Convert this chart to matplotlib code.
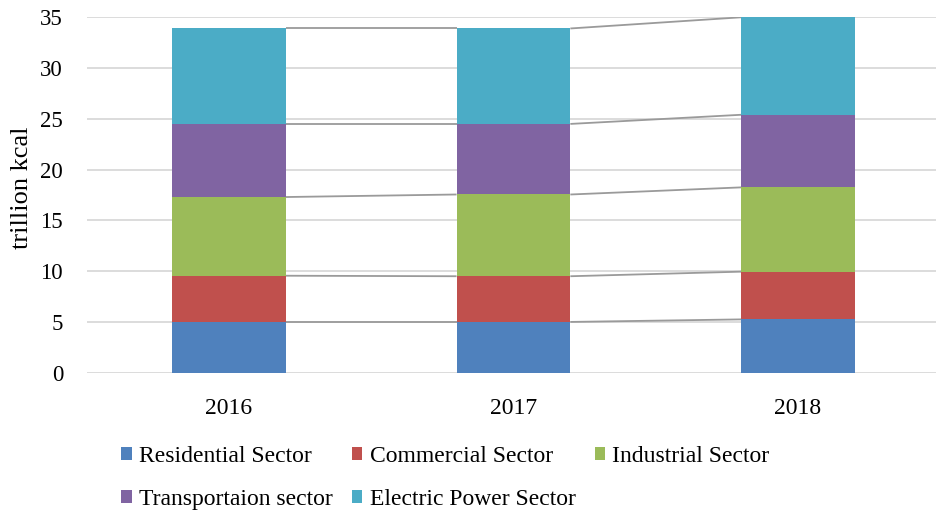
import matplotlib
matplotlib.use("Agg")
import matplotlib.pyplot as plt
from matplotlib.patches import Patch
import numpy as np

years = ["2016", "2017", "2018"]
sectors = ["Residential Sector", "Commercial Sector", "Industrial Sector",
           "Transportaion sector", "Electric Power Sector"]
residential = [5.0, 5.0, 5.25]
commercial = [4.55, 4.5, 4.7]
industrial = [7.75, 8.05, 8.3]
transportation = [7.2, 6.95, 7.15]
electric = [9.4, 9.4, 9.6]
colors = ["#4F81BD", "#C0504D", "#9BBB59", "#8064A2", "#4BACC6"]
yticks = [0, 5, 10, 15, 20, 25, 30, 35]

plt.rcParams['font.family'] = ['Liberation Serif', 'DejaVu Serif']

W, H = 936, 514
fig = plt.figure(figsize=(W / 100, H / 100), dpi=100)
ax = fig.add_axes([86.7 / W, 1 - 372.7 / H, 853.5 / W, 355.4 / H])

series = [residential, commercial, industrial, transportation, electric]
x = np.arange(len(years))
width = 0.40
bottom = np.zeros(len(years))
tops = []
for vals, col, name in zip(series, colors, sectors):
    vals = np.array(vals)
    ax.bar(x, vals, width, bottom=bottom, color=col, label=name, zorder=3,
           edgecolor='none')
    bottom = bottom + vals
    tops.append(bottom.copy())

# series lines connecting segment tops
for t in tops:
    for i in range(len(years) - 1):
        ax.plot([x[i] + width / 2, x[i + 1] - width / 2], [t[i], t[i + 1]],
                color="#9a9a9a", lw=1.3, zorder=2, solid_capstyle='butt')

ax.set_xlim(-0.5, 2.5)
ax.set_ylim(0, 35)
ax.set_yticks(yticks)
ax.set_xticks(x)
ax.set_xticklabels(years)
ax.yaxis.grid(True, color="#d9d9d9", lw=1.3, zorder=0)
ax.set_axisbelow(True)
for s in ax.spines.values():
    s.set_visible(False)
ax.tick_params(axis='y', length=0, pad=17, labelsize=16.5, colors='black')
ax.tick_params(axis='x', length=0, pad=18, labelsize=17, colors='black')
ax.set_ylabel("trillion kcal", fontsize=19)
ax.yaxis.set_label_coords(-(86.7 - 33) / 853.5, 0.52)

handles = [Patch(facecolor=c, edgecolor='none') for c in colors]
order = [0, 3, 1, 4, 2]
leg = fig.legend([handles[i] for i in order], [sectors[i] for i in order],
                 ncol=3, loc='upper left', bbox_to_anchor=(121 / W, 1 - 446 / H),
                 frameon=False, fontsize=17, handlelength=0.45, handleheight=0.45,
                 handletextpad=0.3, columnspacing=0.82, labelspacing=0.93,
                 borderpad=0, borderaxespad=0)

fig.savefig("out.png", dpi=100)
